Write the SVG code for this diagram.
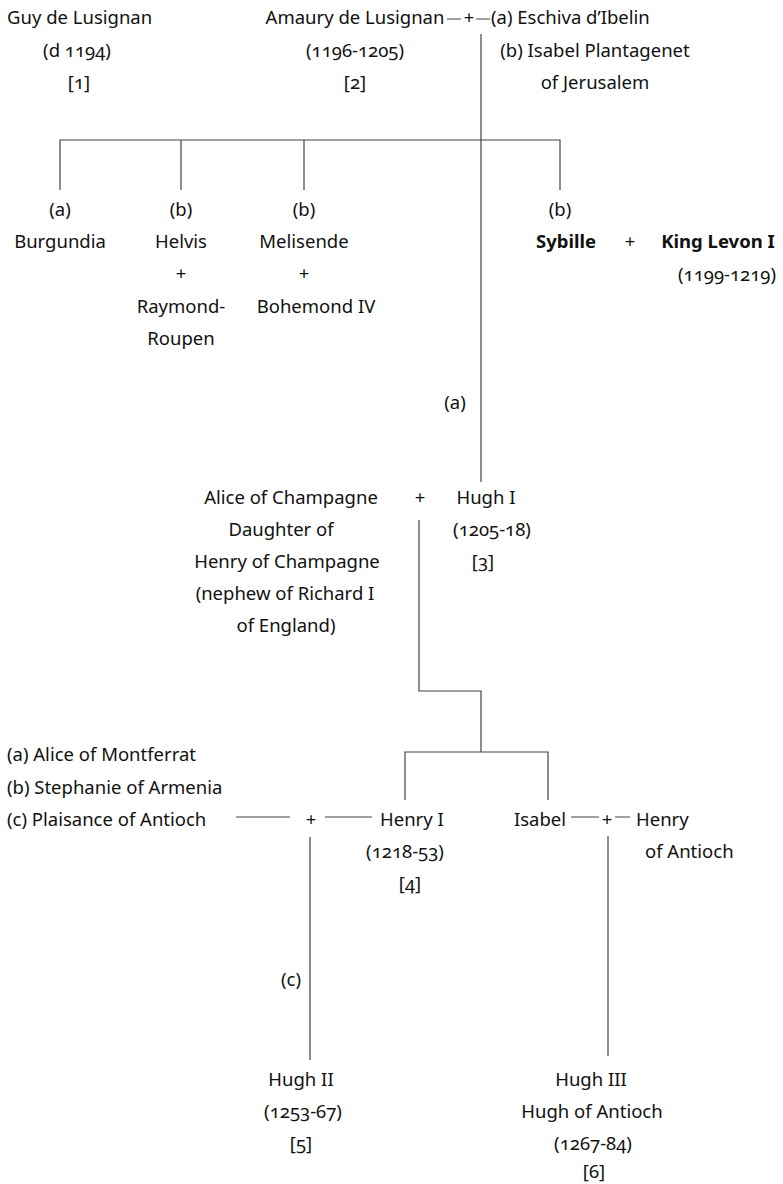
<svg xmlns="http://www.w3.org/2000/svg" width="783" height="1184" viewBox="0 0 783 1184">
<style>
text{font-family:"Noto Sans","Open Sans",sans-serif;font-size:18.5px;fill:#111;font-feature-settings:"onum";}
.m{text-anchor:middle}
.e{text-anchor:end}
.b{font-weight:bold}
.c{stroke:#444;stroke-width:1.2;fill:none}
</style>
<rect width="783" height="1184" fill="#fff"/>
<g id="connectors" class="c">
<path d="M447 19H461M476 19H490"/>
<path d="M481 34V482"/>
<path d="M60 190V140H560V190M181 140V190M304 140V190"/>
<path d="M419 520V691H481V752M405 800V752H548V800"/>
<path d="M236 817H290M325 817H372M571 817H599M615 817H630"/>
<path d="M310 837V1060M608 836V1056"/>
</g>
<g id="guy"><text x="7" y="24">Guy de Lusignan</text><text class="m" x="77" y="57">(d 1194)</text><text class="m" x="79" y="89">[1]</text></g>
<g id="amaury"><text class="m" x="355" y="24">Amaury de Lusignan</text><text class="m" x="355" y="57">(1196-1205)</text><text class="m" x="355" y="89">[2]</text><text class="m" x="469" y="24">+</text></g>
<g id="wives"><text x="491" y="24">(a) Eschiva d’Ibelin</text><text class="m" x="595" y="57">(b) Isabel Plantagenet</text><text class="m" x="595" y="89">of Jerusalem</text></g>
<g id="burgundia"><text class="m" x="60" y="216">(a)</text><text class="m" x="60" y="248">Burgundia</text></g>
<g id="helvis"><text class="m" x="181" y="216">(b)</text><text class="m" x="181" y="248">Helvis</text><text class="m" x="181" y="280">+</text><text class="m" x="181" y="313">Raymond-</text><text class="m" x="181" y="345">Roupen</text></g>
<g id="melisende"><text class="m" x="304" y="216">(b)</text><text class="m" x="304" y="248">Melisende</text><text class="m" x="304" y="280">+</text><text class="m" x="316" y="313">Bohemond IV</text></g>
<g id="sybille"><text class="m" x="560" y="216">(b)</text><text class="m b" x="566" y="248">Sybille</text><text class="m" x="630" y="248">+</text><text class="m b" x="718" y="248">King Levon I</text><text class="m" x="727" y="281">(1199-1219)</text></g>
<text class="m" x="455" y="409">(a)</text>
<g id="alice"><text class="m" x="291" y="504">Alice of Champagne</text><text class="m" x="281" y="536">Daughter of</text><text class="m" x="287" y="568">Henry of Champagne</text><text class="m" x="285" y="600">(nephew of Richard I</text><text class="m" x="286" y="632">of England)</text><text class="m" x="420" y="504">+</text></g>
<g id="hugh1"><text class="m" x="486" y="504">Hugh I</text><text class="m" x="492" y="536">(1205-18)</text><text class="m" x="483" y="568">[3]</text></g>
<g id="wives2"><text x="7" y="761">(a) Alice of Montferrat</text><text x="7" y="794">(b) Stephanie of Armenia</text><text x="7" y="826">(c) Plaisance of Antioch</text><text class="m" x="311" y="826">+</text></g>
<g id="henry1"><text x="380" y="826">Henry I</text><text class="m" x="405" y="858">(1218-53)</text><text class="m" x="410" y="890">[4]</text></g>
<g id="isabel"><text class="e" x="566" y="826">Isabel</text><text class="m" x="607" y="826">+</text></g>
<g id="henryantioch"><text x="636" y="826">Henry</text><text x="645" y="858">of Antioch</text></g>
<text class="m" x="291" y="986">(c)</text>
<g id="hugh2"><text class="m" x="301" y="1086">Hugh II</text><text class="m" x="303" y="1118">(1253-67)</text><text class="m" x="301" y="1150">[5]</text></g>
<g id="hugh3"><text class="m" x="591" y="1086">Hugh III</text><text class="m" x="592" y="1118">Hugh of Antioch</text><text class="m" x="593" y="1150">(1267-84)</text><text class="m" x="594" y="1178">[6]</text></g>
</svg>
